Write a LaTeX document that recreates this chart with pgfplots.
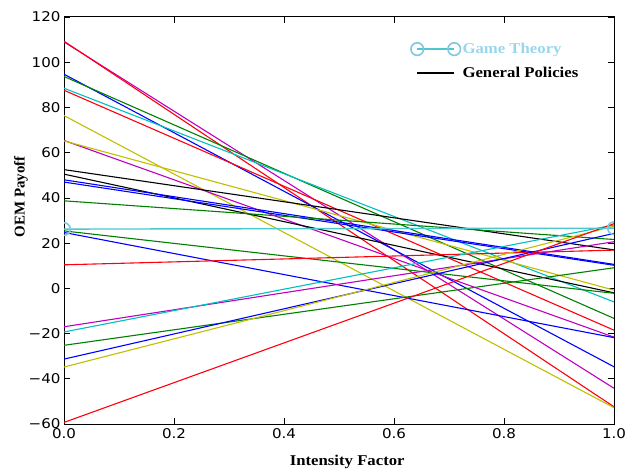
\documentclass[border=0pt]{standalone}
\usepackage{pgfplots}
\pgfplotsset{compat=1.18}
\usepackage{fontspec}
\setmainfont{Liberation Serif}[FakeStretch=1.12]
\newfontfamily\ylfont{Liberation Serif}
\newfontfamily\tickfont{DejaVu Sans}[FakeStretch=1.12]
\definecolor{mb}{rgb}{0,0,1}
\definecolor{mg}{rgb}{0,0.5,0}
\definecolor{mr}{rgb}{1,0,0.05}
\definecolor{mc}{rgb}{0,0.75,0.75}
\definecolor{mm}{rgb}{0.75,0,0.75}
\definecolor{my}{rgb}{0.75,0.75,0}
\definecolor{gtline}{rgb}{0.3,0.78,0.8}
\definecolor{gtmark}{rgb}{0.5,0.78,0.88}
\definecolor{gttext}{rgb}{0.6,0.84,0.92}
\pgfplotsset{
  gtleg/.style={legend image code/.code={\draw[##1] plot coordinates {(0bp,0bp) (37bp,0bp)};}},
  gpleg/.style={legend image code/.code={\draw[##1] (0bp,0bp) -- (37bp,0bp);}},
  gtstyle/.style={color=gtline, line width=1.4bp, mark=o, mark size=6.3bp, mark options={draw=gtmark, line width=1.6bp, fill=none}},
}
\begin{document}
\begin{tikzpicture}
\path[use as bounding box] (-64bp,-46bp) rectangle (570bp,424bp);
\begin{axis}[
  at={(0,0)}, anchor=south west,
  scale only axis, width=550bp, height=407bp,
  xmin=0, xmax=1, ymin=-60, ymax=120,
  xtick={0,0.2,0.4,0.6,0.8,1},
  xticklabels={0.0,0.2,0.4,0.6,0.8,1.0},
  ytick={-60,-40,-20,0,20,40,60,80,100,120},
  yticklabels={{−60},{−40},{−20},0,20,40,60,80,100,120},
  tick align=inside, tick pos=both, major tick length=6bp,
  tick style={black, line width=0.6bp},
  axis line style={line width=1bp},
  ticklabel style={font=\tickfont\fontsize{13.5}{15}\selectfont},
  xticklabel style={yshift=-1bp},
  xlabel={Intensity Factor}, ylabel={OEM Payoff},
  xlabel style={font=\bfseries\fontsize{15}{17}\selectfont, at={(axis description cs:0.515,-0.103)}, anchor=base},
  ylabel style={font=\ylfont\bfseries\fontsize{15}{17}\selectfont, at={(axis description cs:-0.078,0.558)}, anchor=center},
  clip marker paths=true,
  every axis plot/.append style={line width=1.1bp},
  legend style={draw=none, fill=none, at={(axis description cs:0.625,0.946)}, anchor=north west,
    font=\bfseries\fontsize{15}{17}\selectfont, row sep=8.5bp},
  legend cell align=left,
]
\addlegendimage{gtstyle, gtleg}
\addlegendentry{\textcolor{gttext}{Game Theory}}
\addlegendimage{black, line width=2bp, gpleg}
\addlegendentry{General Policies}
% descending policies
\addplot[mm, forget plot] coordinates {(0,109) (1,-44.2)};
\addplot[mr, forget plot] coordinates {(0,109.3) (1,-52.4)};
\addplot[mb, forget plot] coordinates {(0,94.7) (1,-34.7)};
\addplot[mg, forget plot] coordinates {(0,93.7) (1,-13.3)};
\addplot[mc, forget plot] coordinates {(0,88.5) (1,-6)};
\addplot[mr, forget plot] coordinates {(0,87.6) (1,-18.5)};
\addplot[my, forget plot] coordinates {(0,76.4) (1,-52.8)};
\addplot[mm, forget plot] coordinates {(0,65.4) (1,-21.6)};
\addplot[my, forget plot] coordinates {(0,65.2) (1,-0.8)};
\addplot[black, forget plot] coordinates {(0,52.5) (1,17)};
\addplot[black, forget plot] coordinates {(0,50.5) (1,-2)};
\addplot[mb, forget plot] coordinates {(0,48) (1,10.6)};
\addplot[mb, forget plot] coordinates {(0,47) (1,10.2)};
\addplot[mg, forget plot] coordinates {(0,38.7) (1,21.6)};
\addplot[mg, forget plot] coordinates {(0,25.4) (1,-2.2)};
\addplot[mb, forget plot] coordinates {(0,24.7) (1,-21.8)};
% ascending policies
\addplot[mr, forget plot] coordinates {(0,10.4) (1,16.9)};
\addplot[mm, forget plot] coordinates {(0,-17) (1,20.6)};
\addplot[mc, forget plot] coordinates {(0,-19.3) (1,28)};
\addplot[mg, forget plot] coordinates {(0,-25.2) (1,9.1)};
\addplot[mb, forget plot] coordinates {(0,-31.3) (1,24.3)};
\addplot[my, forget plot] coordinates {(0,-34.8) (1,27.5)};
\addplot[mr, forget plot] coordinates {(0,-59.3) (1,28.6)};
% game theory
\addplot[gtstyle, forget plot] coordinates {(0,26.2) (1,26.6)};
\end{axis}
\end{tikzpicture}
\end{document}
